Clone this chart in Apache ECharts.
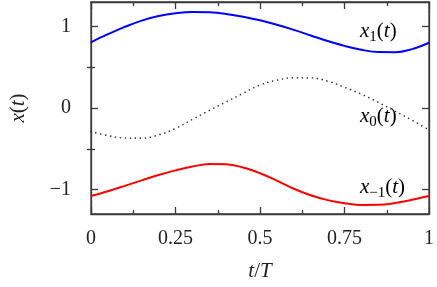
<!DOCTYPE html>
<html><head><meta charset="utf-8">
<script src="https://cdn.jsdelivr.net/npm/echarts@6/dist/echarts.min.js"></script>
<style>html,body{margin:0;padding:0;background:#fff}#c{width:437px;height:287px}</style>
</head><body><div id="c"></div>
<script>
var tValues = [0,0.05,0.1,0.15,0.2,0.25,0.3,0.35,0.4,0.45,0.5,0.55,0.6,0.65,0.7,0.75,0.8,0.85,0.9,0.95,1];
var x1Values = [0.806,0.905,0.995,1.072,1.128,1.162,1.178,1.174,1.154,1.12,1.075,1.02,0.958,0.89,0.822,0.762,0.714,0.686,0.684,0.722,0.80];
var x0Values = [-0.29,-0.338,-0.368,-0.37,-0.33,-0.25,-0.14,-0.03,0.075,0.18,0.282,0.342,0.37,0.368,0.33,0.255,0.17,0.07,-0.04,-0.15,-0.27];
var xm1Values = [-1.08,-1.02,-0.955,-0.888,-0.822,-0.765,-0.718,-0.688,-0.69,-0.73,-0.80,-0.89,-0.99,-1.07,-1.13,-1.168,-1.19,-1.188,-1.165,-1.125,-1.08];
var yMajorTicks = [-1,0,1];
var yMinorTicks = [-0.5,0.5];

function pairs(v){ return tValues.map(function(t,i){ return [t, v[i]]; }); }
var FONT = 'Liberation Serif';
var AX = '#3a3a3a';
var rich = {
  i:{fontFamily:FONT,fontStyle:'italic',fontSize:21,color:'#222'},
  r:{fontFamily:FONT,fontSize:21,color:'#222'},
  s:{fontFamily:FONT,fontSize:15,color:'#222',padding:[12,0,0,0]}
};
function fmt(v){ return String(v).replace('-','\u2212'); }
var chart = echarts.init(document.getElementById('c'), null, {renderer:'canvas'});
var gridL=83, gridR=8, gridT=2, gridB=70;
var line = {show:true,onZero:false,lineStyle:{color:AX,width:1.3}};
var option = {
  animation:false,
  grid:{left:gridL,right:gridR,top:gridT,bottom:gridB,show:true,borderColor:AX,borderWidth:1.3,backgroundColor:'transparent'},
  xAxis:[
    {type:'value',min:0,max:1,interval:0.25,position:'bottom',
     axisLine:line,
     axisTick:{show:true,inside:true,length:7,lineStyle:{color:AX,width:1.3}},
     minorTick:{show:true,splitNumber:2,length:4,lineStyle:{color:AX,width:1.3}},
     splitLine:{show:false},minorSplitLine:{show:false},
     axisLabel:{margin:15,fontFamily:FONT,fontSize:20,color:'#222',formatter:fmt},
     name:'{i|t}{r|/}{i|T}',nameLocation:'middle',nameGap:47,
     nameTextStyle:{rich:rich}},
    {type:'value',min:0,max:1,interval:0.25,position:'top',
     axisLine:line,
     axisTick:{show:true,inside:true,length:7,lineStyle:{color:AX,width:1.3}},
     minorTick:{show:true,splitNumber:2,length:4,lineStyle:{color:AX,width:1.3}},
     splitLine:{show:false},axisLabel:{show:false}}
  ],
  yAxis:[
    {type:'value',min:-1.3,max:1.3,position:'left',
     axisLine:line,
     axisTick:{show:true,inside:true,length:7,customValues:yMajorTicks,lineStyle:{color:AX,width:1.3}},
     splitLine:{show:false},
     axisLabel:{margin:20,fontFamily:FONT,fontSize:20,color:'#222',customValues:yMajorTicks,formatter:fmt},
     name:'{i|x}{r|(}{i|t}{r|)}',nameLocation:'middle',nameGap:62,nameRotate:90,
     nameTextStyle:{rich:rich}},
    {type:'value',min:-1.3,max:1.3,position:'left',
     axisLine:{show:false},
     axisTick:{show:true,inside:true,length:4,customValues:yMinorTicks,lineStyle:{color:AX,width:1.3}},
     splitLine:{show:false},axisLabel:{show:false}},
    {type:'value',min:-1.3,max:1.3,position:'right',
     axisLine:line,
     axisTick:{show:true,inside:true,length:7,customValues:yMajorTicks,lineStyle:{color:AX,width:1.3}},
     splitLine:{show:false},axisLabel:{show:false}},
    {type:'value',min:-1.3,max:1.3,position:'right',
     axisLine:{show:false},
     axisTick:{show:true,inside:true,length:4,customValues:yMinorTicks,lineStyle:{color:AX,width:1.3}},
     splitLine:{show:false},axisLabel:{show:false}}
  ],
  series:[
    {type:'line',data:pairs(x1Values),smooth:0.4,symbol:'none',lineStyle:{color:'#0000ff',width:2}},
    {type:'line',data:pairs(x0Values),smooth:0.4,symbol:'none',lineStyle:{color:'#333',width:1.6,type:[0.1,4.9],cap:'round'}},
    {type:'line',data:pairs(xm1Values),smooth:0.4,symbol:'none',lineStyle:{color:'#ff0000',width:2}}
  ],
  graphic:[
    {type:'text',left:360,top:21,style:{text:'{i|x}{s|1}{r|(}{i|t}{r|)}',rich:rich}},
    {type:'text',left:360,top:106,style:{text:'{i|x}{s|0}{r|(}{i|t}{r|)}',rich:rich}},
    {type:'text',left:360,top:177,style:{text:'{i|x}{s|\u22121}{r|(}{i|t}{r|)}',rich:rich}}
  ]
};
chart.setOption(option);
</script></body></html>
